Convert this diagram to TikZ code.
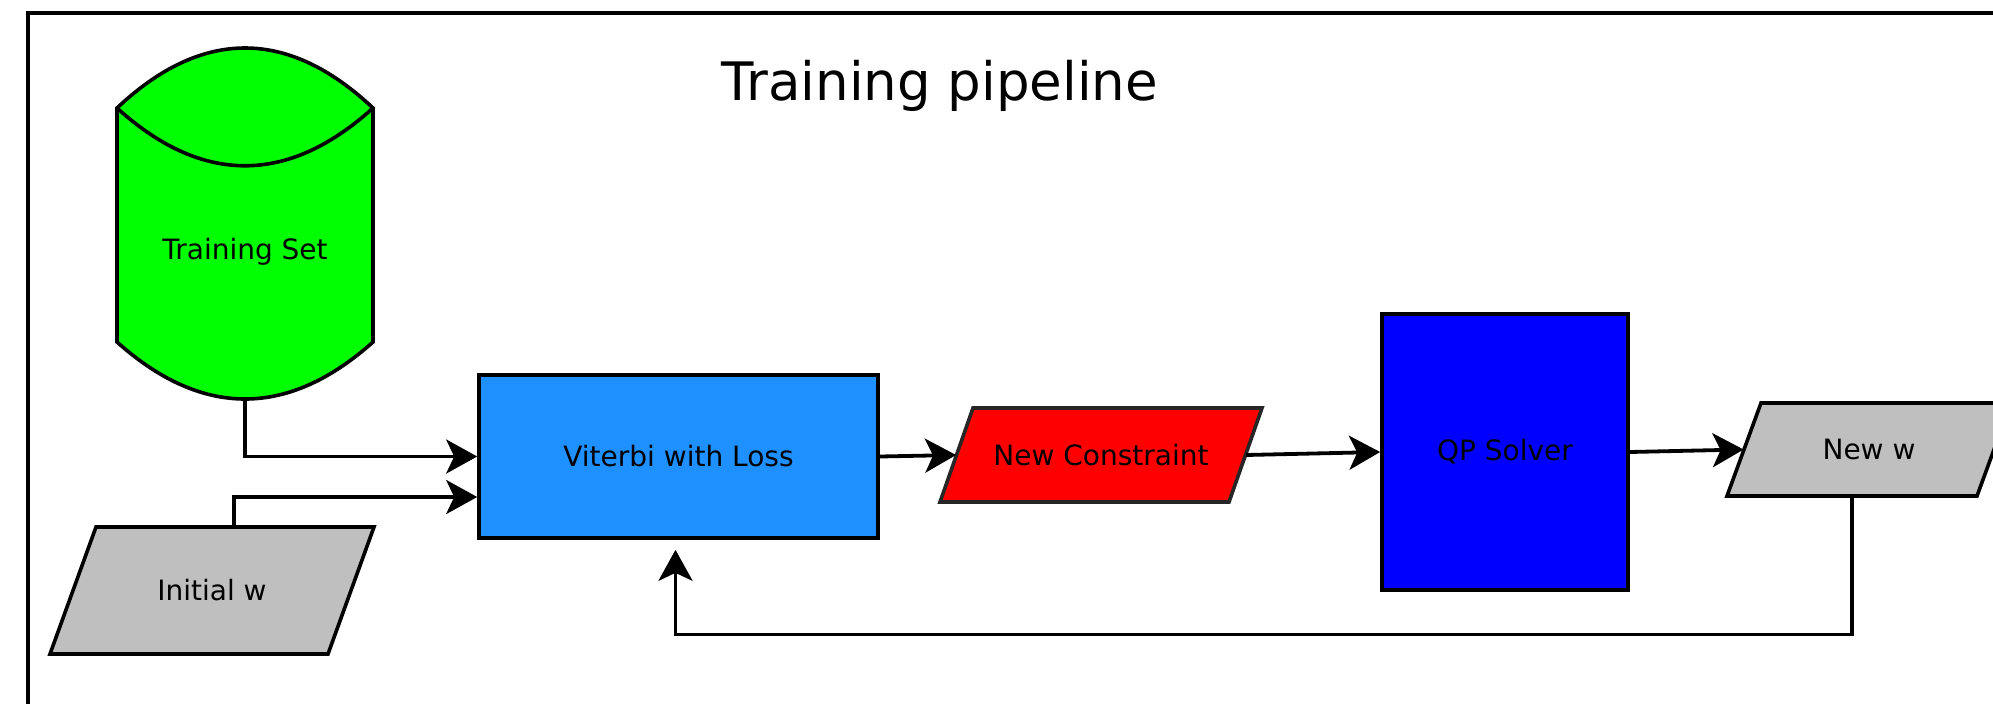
\documentclass[tikz,border=0pt]{standalone}
\usepackage{fontspec}
\setmainfont{DejaVu Sans}
\usetikzlibrary{arrows.meta,calc}
\definecolor{cylgreen}{RGB}{0,255,0}
\definecolor{vitblue}{RGB}{30,144,255}
\definecolor{qpblue}{RGB}{0,0,255}
\definecolor{ncred}{RGB}{255,0,0}
\definecolor{pgray}{RGB}{191,191,191}
\begin{document}
\begin{tikzpicture}[x=0.5pt,y=-0.5pt,
  shapeline/.style={line width=1.8pt, draw=black},
  lbl/.style={font=\fontsize{14}{17}\selectfont, text=black},
  conn/.style={line width=1.9pt, draw=black},
  arr/.style={conn, -{Stealth[length=15.5pt,width=17pt,inset=4pt]}},
  box/.style={shapeline, rectangle, inner sep=0pt, lbl},
  ghost/.style={rectangle, inner sep=0pt, lbl}]
\useasboundingbox (0,0) rectangle (1993,703);
\clip (0,0) rectangle (1993,703);
\fill[white] (0,0) rectangle (1993,703);
\draw[line width=2.3pt] (28,13) rectangle (2040,760);

\node[font=\fontsize{26.5}{31}\selectfont, anchor=base] (title) at (940,100) {Training pipeline};

% cylinder
\filldraw[shapeline, fill=cylgreen] (117,108) .. controls (202,28) and (288,28) .. (373,108) -- (373,342) .. controls (288,418) and (202,418) .. (117,342) -- cycle;
\draw[shapeline] (117,108) .. controls (202,185) and (288,185) .. (373,108);
\node[ghost, minimum width=128pt, minimum height=147pt] (ts) at (245,252) {Training Set};

% Viterbi
\node[box, fill=vitblue, minimum width=199.5pt, minimum height=81.5pt] (vit) at (678.5,456.5) {Viterbi with Loss};

% New Constraint
\filldraw[shapeline, fill=ncred, draw=black!85] (973,408) -- (1262,408) -- (1229,502) -- (940,502) -- cycle;
\node[ghost, minimum width=144.5pt, minimum height=47pt] (nc) at (1101,455) {New Constraint};

% QP Solver
\node[box, fill=qpblue, minimum width=123pt, minimum height=138pt] (qp) at (1505,452) {QP Solver};

% New w
\filldraw[shapeline, fill=pgray] (1761,403) -- (2011,403) -- (1977,496) -- (1727,496) -- cycle;
\node[ghost, minimum width=125pt, minimum height=46.5pt] (nw) at (1869,449.5) {New w};

% Initial w
\filldraw[shapeline, fill=pgray] (96,527) -- (374,527) -- (328,654) -- (50,654) -- cycle;
\node[ghost, minimum width=139pt, minimum height=63.5pt] (iw) at (212,590.5) {Initial w};

% connectors
\draw[arr] (ts.south) |- (vit.west);
\draw[arr] ($(iw.north)+(22,0)$) |- ($(vit.west)+(0,40.5)$);
\draw[arr] (vit.east) -- (nc.west);
\draw[arr] (nc.east) -- (qp.west);
\draw[arr] (qp.east) -- (nw.west);
\draw[arr] ($(nw.south)+(-17,0)$) -- ++(0,138) -| ($(vit.south)+(-3,10)$);
\end{tikzpicture}
\end{document}
